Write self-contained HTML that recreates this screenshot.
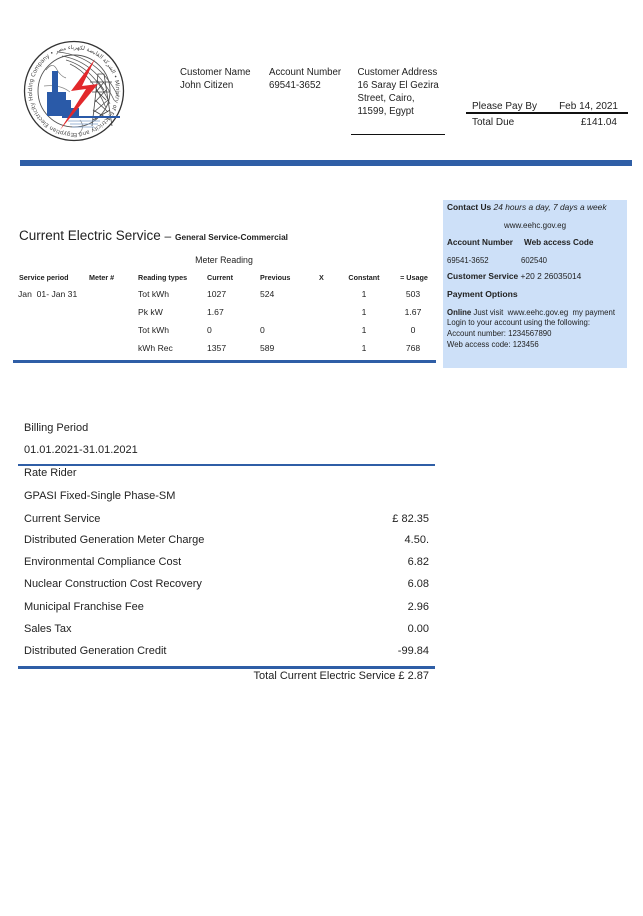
<!DOCTYPE html>
<html>
<head>
<meta charset="utf-8">
<style>
html,body{margin:0;padding:0;background:#fff;}
body{width:643px;height:916px;position:relative;overflow:hidden;font-family:"Liberation Sans","DejaVu Sans",sans-serif;color:#222;}
.t{position:absolute;white-space:nowrap;line-height:1;}
.b{font-weight:bold;}
.r{text-align:right;}
.c{text-align:center;}
.bar{position:absolute;background:#2f5ea6;}
</style>
</head>
<body>

<svg width="643" height="916" style="position:absolute;left:0;top:0" xmlns="http://www.w3.org/2000/svg">
  <defs>
    <path id="ring" d="M74,133 A42,42 0 1,1 74.01,133"/>
  </defs>
  <circle cx="74" cy="91" r="49.5" fill="#fff" stroke="#333" stroke-width="1.3"/>
  <circle cx="74" cy="91" r="36" fill="none" stroke="#555" stroke-width="0.9"/>
  <text font-size="5.6" fill="#444" font-family="DejaVu Sans, sans-serif"><textPath href="#ring">Egyptian Electricity Holding Company • الشركة القابضة لكهرباء مصر • Ministry of Electricity and Energy • وزارة الكهرباء والطاقة</textPath></text>
  <g fill="none" stroke="#555" stroke-width="0.7">
    <path d="M58,52 Q98,56 118,96"/>
    <path d="M62,56 Q96,62 114,100"/>
    <path d="M66,60 Q94,68 110,104"/>
    <path d="M70,64 Q92,74 106,108"/>
    <path d="M46,70 Q52,62 56,68 Q60,76 66,78" stroke="#777"/>
    <path d="M44,86 Q60,84 70,92" stroke="#888"/>
    <path d="M80,120 Q86,128 78,134" stroke="#888"/>
  </g>
  <g fill="none" stroke="#444" stroke-width="0.8">
    <path d="M92,126 L98,74 L104,74 L112,126"/>
    <path d="M94,112 L108,100 M95,102 L106,90 M96,92 L104,82 M108,112 L95,100 M106,100 L96,90 M104,90 L97,80 M93,120 L110,110 M110,120 L93,110"/>
    <path d="M90,82 L112,82 M92,92 L110,92"/>
  </g>
  <polygon points="47,116 47,92 52,92 52,71 58,71 58,92 66,92 66,100 71,100 71,108 79,108 79,116" fill="#2a5aa8"/>
  <rect x="62" y="116" width="58" height="2" fill="#2a5aa8"/>
  <g stroke="#7a9cc8" stroke-width="0.7">
    <line x1="68" y1="121" x2="100" y2="121"/>
    <line x1="70" y1="124" x2="98" y2="124"/>
    <line x1="72" y1="127" x2="94" y2="127"/>
  </g>
  <polygon points="95,59 71,91 86,89 60,130 98,84 82,86" fill="#e2282b"/>
</svg>

<!-- header -->
<div class="t" style="left:180px;top:67.5px;font-size:9.7px">Customer Name</div>
<div class="t" style="left:180px;top:80.5px;font-size:9.7px">John Citizen</div>
<div class="t" style="left:269px;top:67.5px;font-size:9.7px">Account Number</div>
<div class="t" style="left:269px;top:80.5px;font-size:9.7px">69541-3652</div>
<div class="t" style="left:357.5px;top:67.5px;font-size:9.7px">Customer Address</div>
<div class="t" style="left:357.5px;top:80.5px;font-size:9.7px">16 Saray El Gezira</div>
<div class="t" style="left:357.5px;top:94px;font-size:9.7px">Street, Cairo,</div>
<div class="t" style="left:357.5px;top:107px;font-size:9.7px">11599, Egypt</div>
<div style="position:absolute;left:351px;top:133.5px;width:94px;height:1px;background:#111"></div>

<div class="t" style="left:472px;top:102px;font-size:10px">Please Pay By</div>
<div class="t r" style="right:25px;top:102px;font-size:10px">Feb 14, 2021</div>
<div style="position:absolute;left:466px;top:112px;width:162px;height:1.6px;background:#111"></div>
<div class="t" style="left:472px;top:118px;font-size:10px">Total Due</div>
<div class="t r" style="right:26px;top:118px;font-size:10px">£141.04</div>

<div class="bar" style="left:20px;top:160px;width:612px;height:5.5px"></div>

<!-- contact box -->
<div style="position:absolute;left:443px;top:200px;width:184px;height:168px;background:#cde0f8"></div>
<div class="t" style="left:447px;top:202.9px;font-size:8.4px"><span class="b">Contact Us</span> <i>24 hours a day, 7 days a week</i></div>
<div class="t c" style="left:443px;width:184px;top:221.5px;font-size:8px">www.eehc.gov.eg</div>
<div class="t b" style="left:447px;top:238.9px;font-size:8.2px">Account Number</div>
<div class="t b" style="left:524px;top:238.9px;font-size:8.2px">Web access Code</div>
<div class="t" style="left:447px;top:256.6px;font-size:7.8px">69541-3652</div>
<div class="t" style="left:521px;top:256.6px;font-size:7.8px">602540</div>
<div class="t" style="left:447px;top:272.3px;font-size:8.4px"><span class="b">Customer Service</span> +20 2 26035014</div>
<div class="t b" style="left:447px;top:289.5px;font-size:8.6px">Payment Options</div>
<div class="t" style="left:447px;top:309.2px;font-size:7.8px"><span class="b">Online</span> Just visit&nbsp; www.eehc.gov.eg&nbsp; my payment</div>
<div class="t" style="left:447px;top:319.2px;font-size:7.8px">Login to your account using the following:</div>
<div class="t" style="left:447px;top:330.2px;font-size:7.8px">Account number: 1234567890</div>
<div class="t" style="left:447px;top:340.9px;font-size:7.8px">Web access code: 123456</div>

<!-- current electric service -->
<div class="t" style="left:19px;top:228.7px;font-size:13.5px">Current Electric Service <span style="font-size:12px">–</span> <span class="b" style="font-size:8.3px">General Service-Commercial</span></div>
<div class="t c" style="left:184px;width:80px;top:256.1px;font-size:8.8px">Meter Reading</div>

<div class="t b" style="left:19px;top:273.6px;font-size:7.2px">Service period</div>
<div class="t b" style="left:89px;top:273.6px;font-size:7.2px">Meter #</div>
<div class="t b" style="left:138px;top:273.6px;font-size:7.2px">Reading types</div>
<div class="t b" style="left:207px;top:273.6px;font-size:7.2px">Current</div>
<div class="t b" style="left:260px;top:273.6px;font-size:7.2px">Previous</div>
<div class="t b" style="left:319px;top:273.6px;font-size:7.2px">X</div>
<div class="t b c" style="left:334px;width:60px;top:273.6px;font-size:7.2px">Constant</div>
<div class="t b c" style="left:384px;width:60px;top:273.6px;font-size:7.2px">= Usage</div>

<div class="t" style="left:18px;top:289.5px;font-size:8.6px">Jan&nbsp; 01- Jan 31</div>

<div class="t" style="left:138px;top:289.5px;font-size:8.6px">Tot kWh</div>
<div class="t" style="left:207px;top:289.5px;font-size:8.6px">1027</div>
<div class="t" style="left:260px;top:289.5px;font-size:8.6px">524</div>
<div class="t c" style="left:344px;width:40px;top:289.5px;font-size:8.6px">1</div>
<div class="t c" style="left:393px;width:40px;top:289.5px;font-size:8.6px">503</div>

<div class="t" style="left:138px;top:308px;font-size:8.6px">Pk kW</div>
<div class="t" style="left:207px;top:308px;font-size:8.6px">1.67</div>
<div class="t c" style="left:344px;width:40px;top:308px;font-size:8.6px">1</div>
<div class="t c" style="left:393px;width:40px;top:308px;font-size:8.6px">1.67</div>

<div class="t" style="left:138px;top:325.5px;font-size:8.6px">Tot kWh</div>
<div class="t" style="left:207px;top:325.5px;font-size:8.6px">0</div>
<div class="t" style="left:260px;top:325.5px;font-size:8.6px">0</div>
<div class="t c" style="left:344px;width:40px;top:325.5px;font-size:8.6px">1</div>
<div class="t c" style="left:393px;width:40px;top:325.5px;font-size:8.6px">0</div>

<div class="t" style="left:138px;top:343.8px;font-size:8.6px">kWh Rec</div>
<div class="t" style="left:207px;top:343.8px;font-size:8.6px">1357</div>
<div class="t" style="left:260px;top:343.8px;font-size:8.6px">589</div>
<div class="t c" style="left:344px;width:40px;top:343.8px;font-size:8.6px">1</div>
<div class="t c" style="left:393px;width:40px;top:343.8px;font-size:8.6px">768</div>

<div class="bar" style="left:13px;top:360px;width:423px;height:3px"></div>

<!-- billing -->
<div class="t" style="left:24px;top:422.6px;font-size:11px">Billing Period</div>
<div class="t" style="left:24px;top:445px;font-size:11px">01.01.2021-31.01.2021</div>
<div class="bar" style="left:18px;top:463.8px;width:417px;height:2.6px"></div>
<div class="t" style="left:24px;top:468.3px;font-size:11px">Rate Rider</div>
<div class="t" style="left:24px;top:491px;font-size:11px">GPASI Fixed-Single Phase-SM</div>

<div class="t" style="left:24px;top:513.6px;font-size:11px">Current Service</div>
<div class="t r" style="right:214px;top:513.6px;font-size:11px">£ 82.35</div>
<div class="t" style="left:24px;top:535.3px;font-size:11px">Distributed Generation Meter Charge</div>
<div class="t r" style="right:214px;top:535.3px;font-size:11px">4.50.</div>
<div class="t" style="left:24px;top:557px;font-size:11px">Environmental Compliance Cost</div>
<div class="t r" style="right:214px;top:557px;font-size:11px">6.82</div>
<div class="t" style="left:24px;top:579.3px;font-size:11px">Nuclear Construction Cost Recovery</div>
<div class="t r" style="right:214px;top:579.3px;font-size:11px">6.08</div>
<div class="t" style="left:24px;top:601.6px;font-size:11px">Municipal Franchise Fee</div>
<div class="t r" style="right:214px;top:601.6px;font-size:11px">2.96</div>
<div class="t" style="left:24px;top:624.3px;font-size:11px">Sales Tax</div>
<div class="t r" style="right:214px;top:624.3px;font-size:11px">0.00</div>
<div class="t" style="left:24px;top:646.3px;font-size:11px">Distributed Generation Credit</div>
<div class="t r" style="right:214px;top:646.3px;font-size:11px">-99.84</div>
<div class="bar" style="left:18px;top:666.3px;width:417px;height:2.8px"></div>
<div class="t r" style="right:214px;top:671px;font-size:11px">Total Current Electric Service £ 2.87</div>

</body>
</html>
